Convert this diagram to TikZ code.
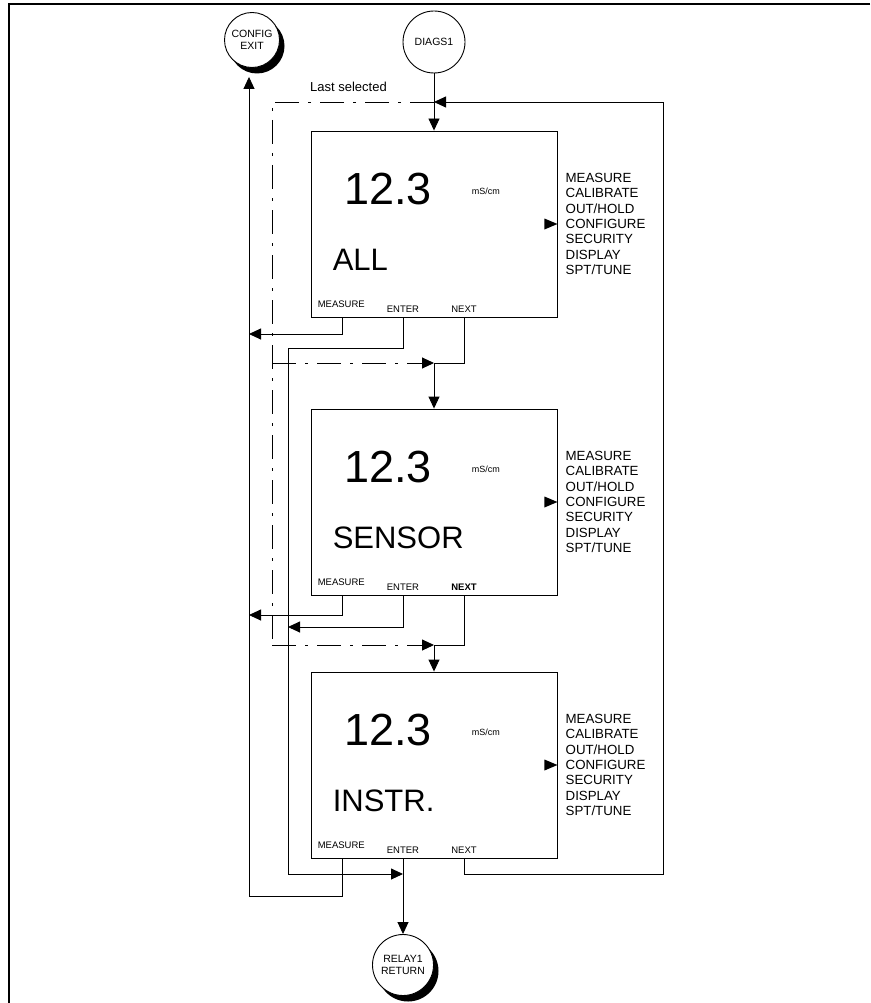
\documentclass[tikz,border=0pt]{standalone}
\usepackage{fontspec}
\setmainfont{Liberation Sans}
\usetikzlibrary{arrows.meta,calc,shadows}
\begin{document}
\begin{tikzpicture}[x=1pt,y=-1pt,
  ln/.style={line width=0.9pt},
  tip/.style={-{Triangle[length=12pt,width=11pt]}},
  dd/.style={ln,dash pattern=on 24pt off 9pt on 3pt off 9pt},
  screen/.style={draw,line width=0.9pt,minimum width=246pt,minimum height=186pt,inner sep=0pt},
  circ/.style={circle,draw,line width=0.9pt,fill=white,inner sep=0pt,align=center,font=\fontsize{10.5}{12.5}\selectfont},
  term/.style={circ,drop shadow={shadow xshift=5pt,shadow yshift=-6pt,opacity=1,fill=black}},
  big/.style={inner sep=0pt,font=\fontsize{45}{50}\selectfont},
  unit/.style={inner sep=0pt,font=\fontsize{9}{10}\selectfont},
  lbl/.style={inner sep=0pt,font=\fontsize{31}{36}\selectfont},
  key/.style={inner sep=0pt,font=\fontsize{9.5}{11}\selectfont},
  menu/.style={inner sep=0pt,align=left,font=\fontsize{13.3}{15.3}\selectfont},
  note/.style={inner sep=0pt,font=\fontsize{13}{15}\selectfont}
]
\useasboundingbox (0,0) rectangle (870,1003);
% frame
\draw[line width=1.6pt] (870,4) -- (9,4) -- (9,1003);

% screens
\foreach \n/\cy/\lab/\nf in {b1/224/ALL/\mdseries, b2/502/SENSOR/\bfseries, b3/765/INSTR./\mdseries} {
  \node[screen] (\n) at (434,\cy) {};
  \node[big,anchor=base] (\n-num) at ($(\n.north west)+(77.5,74)$) {12.3};
  \node[unit,anchor=base west] (\n-unit) at ($(\n.north west)+(161,64)$) {mS/cm};
  \node[lbl,anchor=base west] (\n-lab) at ($(\n.north west)+(22,140)$) {\lab};
  \node[key,anchor=base west] (\n-km) at ($(\n.south west)+(7,-10)$) {MEASURE};
  \node[key,anchor=base] (\n-ke) at ($(\n.south)+(-31,-4.5)$) {ENTER};
  \node[key,anchor=base] (\n-kn) at ($(\n.south)+(30,-4.5)$) {\nf NEXT};
  \node[menu,anchor=west] (\n-menu) at ($(\n.east)+(8,0)$) {MEASURE\\CALIBRATE\\OUT/HOLD\\CONFIGURE\\SECURITY\\DISPLAY\\SPT/TUNE};
  \fill ($(\n.east)+(-13,-5.5)$) -- (\n.east) -- ($(\n.east)+(-13,5.5)$) -- cycle;
  \coordinate (\n-m) at ($(\n.south)+(-92,0)$);
  \coordinate (\n-e) at ($(\n.south)+(-31,0)$);
  \coordinate (\n-n) at ($(\n.south)+(30,0)$);
}

% terminals
\node[term,minimum size=55pt] (cfg) at (252,40) {CONFIG\\EXIT};
\node[circ,minimum size=62pt] (diag) at (434,42) {DIAGS1};
\node[term,minimum size=61pt] (relay) at (403,965) {RELAY1\\RETURN};
\node[note,anchor=base west] (lastsel) at (310,91.5) {Last selected};

% junction coordinates
\coordinate (j0) at (434,102);
\coordinate (j1) at (434,363);
\coordinate (j2) at (434,645);
\coordinate (dl0) at (272,102);
\coordinate (dl1) at (272,363);
\coordinate (dl2) at (272,645);
\coordinate (lp1) at (663,874);
\coordinate (lp2) at (663,102);
\coordinate (ma1) at (249,334);
\coordinate (ma2) at (249,615);
\coordinate (lb) at (249,896);
\coordinate (cfgin) at ($(cfg.south)+(-3,9)$);
\coordinate (e1) at (288,348);
\coordinate (e2) at (288,627);
\coordinate (e3) at (288,874);
\coordinate (eJ) at (403,874);

% last selected (dash-dot)
\draw[dd] (j0) -- (dl0) -- (dl2);
\draw[dd,tip] (dl1) -- (j1);
\draw[dd,tip] (dl2) -- (j2);
\draw[dd,tip] (j0) -- (b1.north);

% entry
\draw[ln] (diag.south) -- (j0);

% NEXT
\draw[ln] (b1-n) |- (j1);
\draw[ln,tip] (j1) -- (b2.north);
\draw[ln] (b2-n) |- (j2);
\draw[ln,tip] (j2) -- (b3.north);
\draw[ln,tip] (b3-n) |- (lp1) -- (lp2) -- (j0);

% MEASURE
\draw[ln,tip] (b1-m) |- (ma1);
\draw[ln,tip] (b2-m) |- (ma2);
\draw[ln,tip] (b3-m) |- (lb) -- (cfgin);

% ENTER
\draw[ln,tip] (b1-e) |- (e1) -- (e3) -- (eJ);
\draw[ln,tip] (b2-e) |- (e2);
\draw[ln,tip] (b3-e) -- (relay.north);
\end{tikzpicture}
\end{document}
